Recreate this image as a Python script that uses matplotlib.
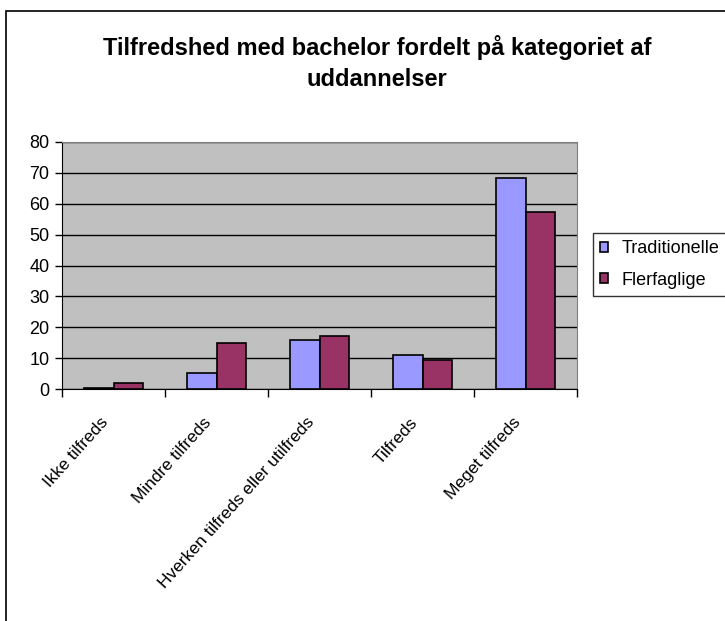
import matplotlib.pyplot as plt
import matplotlib.patches as patches
import numpy as np

plt.rcParams['font.family'] = ['Liberation Sans', 'DejaVu Sans']

categories = ['Ikke tilfreds', 'Mindre tilfreds', 'Hverken tilfreds eller utilfreds', 'Tilfreds', 'Meget tilfreds']
traditionelle = [0.4, 5.1, 15.8, 10.9, 68.5]
flerfaglige = [2.0, 14.8, 17.2, 9.4, 57.2]
series_names = ['Traditionelle', 'Flerfaglige']
yticks = [0, 10, 20, 30, 40, 50, 60, 70, 80]

fig = plt.figure(figsize=(7.25, 6.21), dpi=100)

# outer chart frame
frame = patches.Rectangle((6 / 725, -0.1), 1.2, 1 - 11 / 621 + 0.1, transform=fig.transFigure,
                          fill=False, edgecolor='black', linewidth=1.2, clip_on=False)
fig.patches.append(frame)

ax = fig.add_axes([62 / 725, 1 - 389 / 621, 515 / 725, 247 / 621])
ax.set_facecolor('#C0C0C0')

x = np.arange(len(categories))
w = 0.29
ax.bar(x - w / 2, traditionelle, w, color='#9999FF', edgecolor='black', linewidth=1.2,
       label=series_names[0], zorder=3)
ax.bar(x + w / 2, flerfaglige, w, color='#993366', edgecolor='black', linewidth=1.2,
       label=series_names[1], zorder=3)

ax.set_xlim(-0.5, len(categories) - 0.5)
ax.set_ylim(0, 80)
ax.set_yticks(yticks)
ax.yaxis.grid(True, color='black', linewidth=1)
ax.set_axisbelow(True)

# category boundary ticks
ax.set_xticks(np.arange(-0.5, len(categories), 1.0))
ax.set_xticklabels([])
ax.tick_params(axis='x', direction='out', length=6, width=1, color='black')
ax.tick_params(axis='y', direction='out', length=5, width=1, labelsize=13, pad=4)

for i, cat in enumerate(categories):
    ax.text(i - 0.13, -8.3, cat, rotation=48, ha='right', va='top', rotation_mode='anchor',
            fontsize=12.5, transform=ax.transData)

ax.spines['left'].set_color('black')
ax.spines['bottom'].set_color('black')
ax.spines['top'].set_color('#808080')
ax.spines['right'].set_color('#808080')

fig.text(0.52, 1 - 63 / 621, 'Tilfredshed med bachelor fordelt på kategoriet af\nuddannelser',
         ha='center', va='center', fontsize=17, fontweight='bold', linespacing=1.45)

leg = ax.legend(loc='upper left', bbox_to_anchor=(593 / 725, 1 - 233 / 621),
                bbox_transform=fig.transFigure, fontsize=13, frameon=True, fancybox=False,
                handlelength=0.45, handleheight=0.45, handletextpad=0.75, borderaxespad=0,
                borderpad=0.4, labelspacing=0.8)
leg.get_frame().set_edgecolor('black')
leg.get_frame().set_linewidth(1)

fig.savefig('out.png', dpi=100)
